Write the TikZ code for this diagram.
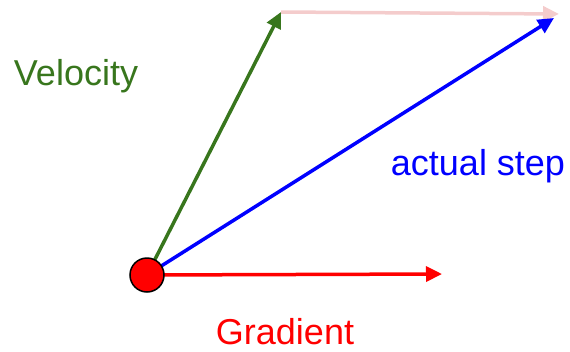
\documentclass[tikz,border=0pt]{standalone}
\usepackage{fontspec}
\setmainfont{Liberation Sans}
\usetikzlibrary{arrows.meta}
\definecolor{velgreen}{RGB}{56,118,29}
\definecolor{stepblue}{RGB}{0,0,255}
\definecolor{gradred}{RGB}{255,0,0}
\definecolor{palepink}{RGB}{244,204,204}

\begin{document}
\begin{tikzpicture}[x=1pt, y=-1pt,
    vec/.style={line width=3.5pt, -{Triangle[length=16pt,width=15pt]}},
    lbl/.style={font=\fontsize{36}{42}\selectfont, anchor=base, inner sep=0pt},
    ball/.style={circle, draw=black, line width=1.5pt, fill=gradred, minimum size=34pt, inner sep=0pt}]
    \useasboundingbox (0,0) rectangle (570,351);
    % start point and arrow tips
    \coordinate (start) at (147,275);
    \coordinate (veltip) at (281,12);
    \coordinate (steptip) at (554,18);
    \coordinate (momtip) at (559,14);
    \coordinate (gradtip) at (442,274);
    % vectors
    \draw[vec, palepink] (veltip) -- (momtip);
    \draw[vec, velgreen] (start) -- (veltip);
    \draw[vec, stepblue] (start) -- (steptip);
    \draw[vec, gradred] (start) -- (gradtip);
    \node[ball] (point) at (start) {};
    % labels
    \node[lbl, text=velgreen] (vellabel) at (76,85) {Velocity};
    \node[lbl, text=stepblue] (steplabel) at (478,175) {actual step};
    \node[lbl, text=gradred] (gradlabel) at (285,344) {Gradient};
\end{tikzpicture}
\end{document}
